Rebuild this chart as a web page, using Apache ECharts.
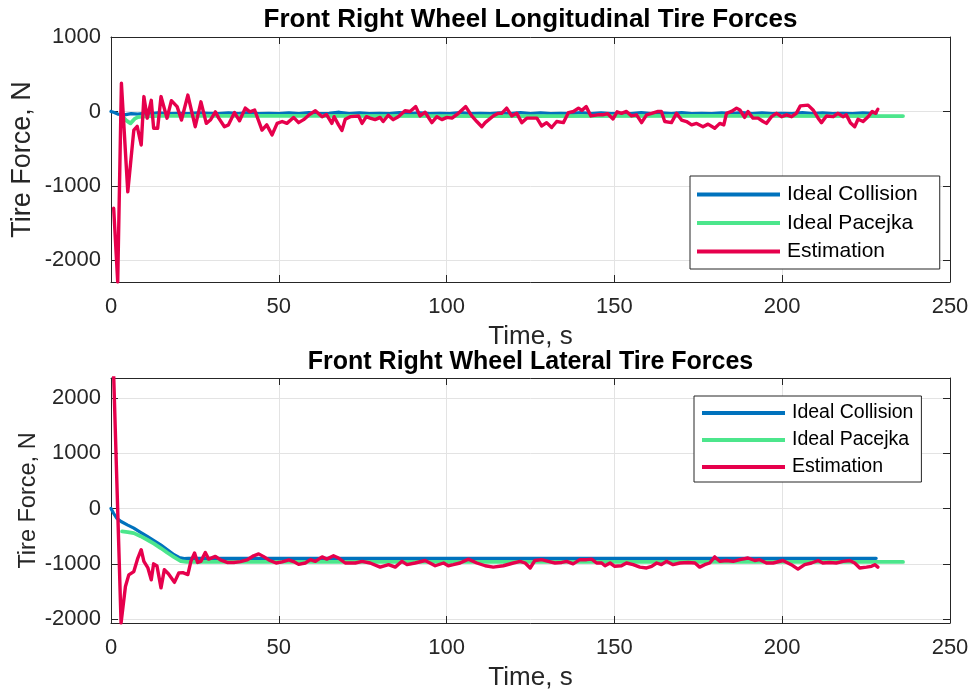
<!DOCTYPE html>
<html>
<head>
<meta charset="utf-8">
<title>Front Right Wheel Tire Forces</title>
<script src="https://cdn.jsdelivr.net/npm/echarts@6/dist/echarts.min.js"></script>
<style>
  html, body { margin: 0; padding: 0; background: #ffffff; }
  #chart { width: 974px; height: 689px; }
</style>
</head>
<body>
<div id="chart"></div>
<script>
// ---- Data: time (s), force (N) ----
const timeTicks = [0, 50, 100, 150, 200, 250];
const seriesNames = ['Ideal Collision', 'Ideal Pacejka', 'Estimation'];

// Longitudinal force, front right wheel
const lonCollision = [
  [0,0],[1,-15],[2,-35],[3,-40],[4,-45],[6,-30],[8,-35],[10,-25],[12,-30],[14,-20],[17,-30],[20,-25],
  [23,-30],[26,-20],[29,-25],[32,-30],[35,-20],[38,-30],[41,-15],[44,-30],[47,-25],[50,-30],[53,-20],
  [56,-30],[59,-15],[62,-30],[65,-25],[68,-10],[71,-30],[74,-20],[77,-30],[80,-25],[83,-30],[86,-15],
  [89,-30],[92,-20],[95,-30],[98,-25],[101,-30],[104,-15],[107,-30],[110,-25],[113,-30],[116,-20],
  [119,-30],[122,-15],[125,-30],[128,-20],[131,-30],[134,-25],[137,-30],[140,-15],[143,-30],[146,-20],
  [149,-30],[152,-25],[155,-30],[158,-15],[161,-30],[164,-20],[167,-30],[170,-15],[173,-30],[176,-25],
  [179,-30],[182,-20],[185,-30],[188,-15],[191,-30],[194,-20],[197,-30],[200,-25],[203,-30],[206,-15],
  [209,-30],[212,-20],[215,-30],[218,-25],[221,-30],[224,-20],[228,-30]
];
const lonPacejka = [
  [3,-50],[4.5,-120],[5.8,-160],[7,-100],[8,-75],[10,-65],[15,-60],[60,-60],[120,-62],[180,-60],[236,-62]
];
const lonEstimation = [
  [0.8,-1300],[1.3,-1300],[2,-2290],[3.1,380],[5,-1080],[6.8,-250],[7.8,-200],[9,-450],[9.8,200],
  [10.8,-90],[12,150],[12.7,-225],[13.9,-225],[14.9,200],[16.7,-90],[18,145],[19.7,65],[21,-115],
  [22.9,220],[25.1,-205],[26.8,130],[28.4,-160],[29.6,-115],[31.1,-5],[32.1,-90],[33.8,-205],[35,-180],
  [36.8,-15],[38.3,-125],[40,45],[41.4,-5],[42.8,20],[45,-250],[46.4,-180],[48,-315],[49.5,-160],
  [51,-135],[52.4,-160],[54.4,-80],[55.9,-150],[57.4,-110],[58.9,-50],[60.9,10],[62.9,-70],[64.2,-40],
  [65.8,-160],[66.5,-70],[67.8,-180],[68.8,-255],[69.8,-105],[71.3,-70],[73.8,-60],[74.8,-160],
  [76.1,-70],[77.2,-90],[78.7,-110],[80.2,-80],[81.1,-135],[82.6,-50],[84.1,-110],[85.6,-70],[87.6,10],
  [89.1,0],[90.8,65],[92.1,-60],[93.6,-10],[95.6,-150],[97.1,-70],[98.6,-110],[100.1,-80],[101.6,-90],
  [103.5,-25],[105.7,65],[107.5,-60],[109,-135],[110.5,-205],[111.5,-150],[113.9,-60],[115.4,-25],
  [116.4,-25],[117.9,45],[119.4,-60],[120.9,-25],[122.4,-150],[123.9,-90],[125.4,-90],[126.9,-90],
  [128.3,-195],[129.8,-150],[131.3,-215],[132.8,-135],[134.8,-150],[136.3,-15],[137.8,0],[139.3,45],
  [140.3,15],[141.6,65],[143,-60],[145,-45],[146.5,-45],[148,-30],[149.6,-100],[150.8,-5],[152.1,-25],
  [153.6,0],[155.1,-60],[156.6,-45],[158.1,-150],[159.6,-45],[161.1,-25],[163,0],[164,0],[165,-135],
  [167,-150],[168.5,-25],[170,-115],[171.5,-135],[173,-180],[174.5,-160],[176.4,-205],[177.9,-170],
  [179.9,-225],[181.4,-160],[182.6,-180],[183.4,-25],[184.9,0],[186.4,45],[187.4,20],[188.8,-80],
  [189.8,0],[191.3,-90],[192.8,-90],[194.3,-135],[195.3,-160],[196.8,-70],[198.3,-25],[199.8,-70],
  [201.3,-45],[202.8,-70],[204.2,-25],[205.4,75],[207.7,85],[209.2,20],[210.7,-90],[211.7,-150],
  [213.2,-60],[215.2,-70],[216.6,-25],[218.1,-70],[219.1,-45],[220.3,-150],[221.6,-205],[222.6,-105],
  [224.1,-135],[225.6,-70],[226.8,0],[227.8,-25],[228.5,30]
];

// Lateral force, front right wheel
const latCollision = [
  [0,0],[0.8,-90],[1.7,-175],[3,-235],[5,-300],[6.8,-355],[8.8,-430],[10.8,-505],[12.8,-580],
  [14.8,-655],[16.8,-745],[18.8,-835],[20.3,-885],[21.8,-905],[23,-900],[228,-900]
];
const latPacejka = [
  [3.3,-415],[5,-425],[6.8,-445],[8.8,-500],[10.8,-565],[12.8,-635],[14.8,-715],[16.8,-800],
  [18.8,-877],[20.8,-950],[22.5,-965],[236,-965]
];
const latEstimation = [
  [0.8,2400],[3,-2070],[4.3,-1410],[5.3,-1200],[6.8,-1140],[8,-895],[9,-745],[9.8,-955],[11,-1075],
  [12,-1290],[12.7,-1000],[13.7,-1040],[14.9,-1435],[15.9,-1105],[17.1,-1180],[18.9,-1335],
  [20.2,-1165],[21.4,-1160],[22.9,-1195],[23.8,-955],[24.9,-805],[25.8,-975],[26.8,-955],[28.1,-795],
  [29.1,-915],[31.1,-865],[32.6,-930],[34.6,-975],[36.6,-975],[38.6,-960],[40.5,-930],[42.5,-855],
  [44,-820],[45.5,-870],[47,-930],[49.2,-985],[51,-965],[53,-930],[54.4,-960],[55.9,-1010],
  [57.9,-985],[59.4,-925],[60.9,-955],[62.9,-875],[64.3,-915],[66.3,-855],[67.8,-895],[69.8,-985],
  [72.8,-985],[74.8,-955],[77.2,-985],[80.2,-1060],[82.7,-1015],[84.7,-1060],[86.7,-955],[88.2,-1015],
  [90.6,-985],[93.6,-940],[96.6,-1035],[99.1,-985],[100.5,-1035],[102,-1015],[104,-985],[106.5,-915],
  [109,-985],[111.5,-1035],[113.9,-1060],[116.9,-1035],[119.9,-985],[121.9,-955],[123.4,-985],
  [124.9,-1075],[126.3,-940],[128.3,-925],[130.3,-955],[132.3,-985],[134.3,-975],[135.8,-955],
  [137.7,-1000],[139.7,-925],[141.7,-925],[143.2,-915],[144.7,-985],[146.2,-985],[147.2,-1035],
  [148.7,-985],[150.1,-1045],[152.1,-1035],[153.6,-985],[155.6,-1015],[157.6,-1060],[159.6,-1075],
  [161.1,-1045],[162.6,-985],[164,-1015],[165.5,-955],[167.5,-1015],[169.5,-985],[172,-975],
  [174,-985],[175.4,-1060],[176.9,-1015],[178.4,-985],[179.9,-875],[181.4,-955],[183.4,-940],
  [185.4,-955],[187.4,-925],[189.8,-895],[191.8,-940],[193.3,-925],[195.3,-985],[197.3,-985],
  [200.2,-940],[202.7,-1015],[204.7,-1095],[206.7,-1015],[208.7,-985],[210.7,-940],[212.1,-985],
  [214.1,-975],[216.1,-985],[218.1,-955],[220.1,-940],[221.6,-985],[223.1,-1075],[225.1,-1060],
  [226.6,-1045],[227.6,-1015],[228.5,-1060]
];

// ---- Styling ----
const FONT = '"Liberation Sans", Arial, Helvetica, sans-serif';
const INK = '#262626';
const GRIDLINE = '#e3e3e3';
const COLORS = ['#0072BD', '#4CE68C', '#E6004C'];
const WIDTHS = [3.2, 3.8, 3.4];

const plotLeft = 111, plotRight = 24, plotHeight = 245;
const grids = [
  { left: plotLeft, right: plotRight, top: 37, height: plotHeight },
  { left: plotLeft, right: plotRight, top: 378, height: plotHeight }
];
const yRanges = [[-2290, 1000], [-2070, 2360]];
const plainNumber = v => String(Math.round(v));

function mainX(gi) {
  return {
    type: 'value', gridIndex: gi, min: timeTicks[0], max: timeTicks[timeTicks.length - 1],
    interval: timeTicks[1] - timeTicks[0],
    name: 'Time, s', nameLocation: 'middle', nameGap: 42, nameMoveOverlap: false,
    nameTextStyle: { fontFamily: FONT, fontSize: 26, color: INK },
    axisLine: { show: true, onZero: false, lineStyle: { color: INK, width: 1 } },
    axisTick: { show: true, inside: true, length: 7, lineStyle: { color: INK } },
    axisLabel: { fontFamily: FONT, fontSize: 22, color: INK, margin: 14, formatter: plainNumber },
    splitLine: { show: true, lineStyle: { color: GRIDLINE, width: 1 } }
  };
}
function mirrorX(gi) {
  return {
    type: 'value', gridIndex: gi, position: 'top', min: timeTicks[0], max: timeTicks[timeTicks.length - 1],
    interval: timeTicks[1] - timeTicks[0],
    axisLine: { show: true, onZero: false, lineStyle: { color: INK, width: 1 } },
    axisTick: { show: true, inside: true, length: 7, lineStyle: { color: INK } },
    axisLabel: { show: false }, splitLine: { show: false }
  };
}
function mainY(gi, nameSize, gap) {
  return {
    type: 'value', gridIndex: gi, min: yRanges[gi][0], max: yRanges[gi][1], splitNumber: 4,
    name: 'Tire Force, N', nameLocation: 'middle', nameGap: gap, nameMoveOverlap: false,
    nameTextStyle: { fontFamily: FONT, fontSize: nameSize, color: INK },
    axisLine: { show: true, onZero: false, lineStyle: { color: INK, width: 1 } },
    axisTick: { show: true, inside: true, length: 7, lineStyle: { color: INK } },
    axisLabel: { fontFamily: FONT, fontSize: 22, color: INK, margin: 10, formatter: plainNumber,
                 showMinLabel: false, showMaxLabel: gi === 0 },
    splitLine: { show: true, lineStyle: { color: GRIDLINE, width: 1 } }
  };
}
function mirrorY(gi) {
  return {
    type: 'value', gridIndex: gi, position: 'right', min: yRanges[gi][0], max: yRanges[gi][1], splitNumber: 4,
    axisLine: { show: true, onZero: false, lineStyle: { color: INK, width: 1 } },
    axisTick: { show: true, inside: true, length: 7, lineStyle: { color: INK } },
    axisLabel: { show: false }, splitLine: { show: false }
  };
}

function lineSeries(name, data, idx, gi) {
  return {
    type: 'line', name: name, data: data, xAxisIndex: gi * 2, yAxisIndex: gi * 2,
    showSymbol: false, symbol: 'none', clip: true, animation: false,
    lineStyle: { color: COLORS[idx], width: WIDTHS[idx], join: 'round', cap: 'round' },
    itemStyle: { color: COLORS[idx] }
  };
}

function legendBox(left, top, fontSize, gap, pad) {
  return {
    orient: 'vertical', left: left, top: top, data: seriesNames,
    icon: 'rect', itemWidth: 83, itemHeight: 4, itemGap: gap,
    padding: pad, borderColor: INK, borderWidth: 1, backgroundColor: '#ffffff',
    textStyle: { fontFamily: FONT, fontSize: fontSize, color: '#000000', padding: [0, 0, 0, 2] },
    selectedMode: false
  };
}

const titleX = plotLeft + (974 - plotLeft - plotRight) / 2;

const option = {
  backgroundColor: '#ffffff',
  animation: false,
  graphic: [
    { type: 'text', x: titleX, y: 7,
      style: { text: 'Front Right Wheel Longitudinal Tire Forces', font: 'bold 26px ' + FONT, fill: '#000', textAlign: 'center' } },
    { type: 'text', x: titleX, y: 350,
      style: { text: 'Front Right Wheel Lateral Tire Forces', font: 'bold 25px ' + FONT, fill: '#000', textAlign: 'center' } }
  ],
  grid: grids.map(g => Object.assign({ containLabel: false, outerBoundsMode: 'none', show: false }, g)),
  xAxis: [mainX(0), mirrorX(0), mainX(1), mirrorX(1)],
  yAxis: [mainY(0, 27, 75), mirrorY(0), mainY(1, 23.5, 70), mirrorY(1)],
  legend: [
    legendBox(690, 176, 21, 7.5, [8, 22, 7, 7]),
    legendBox(694, 396, 19.5, 7, [7, 8, 5, 8])
  ],
  series: [
    lineSeries(seriesNames[0], lonCollision, 0, 0),
    lineSeries(seriesNames[1], lonPacejka, 1, 0),
    lineSeries(seriesNames[2], lonEstimation, 2, 0),
    lineSeries(seriesNames[0], latCollision, 0, 1),
    lineSeries(seriesNames[1], latPacejka, 1, 1),
    lineSeries(seriesNames[2], latEstimation, 2, 1)
  ]
};

const chart = echarts.init(document.getElementById('chart'), null, { renderer: 'canvas' });
chart.setOption(option);
</script>
</body>
</html>
